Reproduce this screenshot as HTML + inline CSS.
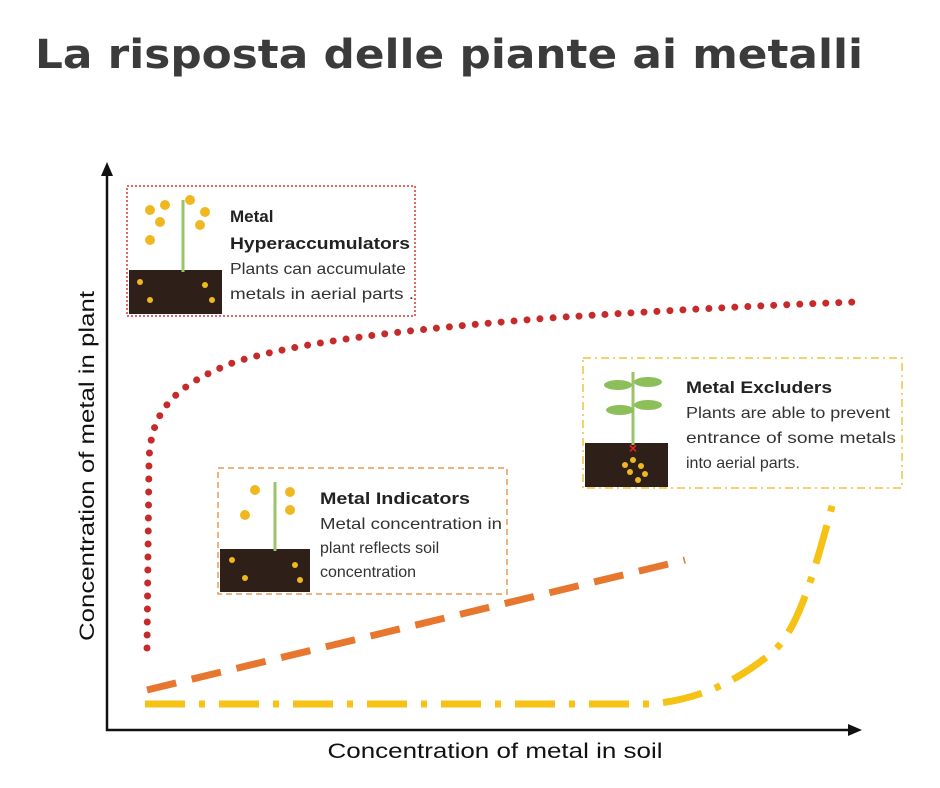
<!DOCTYPE html>
<html><head><style>
body{margin:0;background:#fff;}
svg{display:block;font-family:"Liberation Sans",sans-serif;}
</style></head><body>
<svg width="940" height="788" viewBox="0 0 940 788">
<text x="35" y="68" font-size="40" font-weight="bold" fill="#3b3b3b" font-family="DejaVu Sans, sans-serif" textLength="828" lengthAdjust="spacingAndGlyphs">La risposta delle piante ai metalli</text>
<line x1="107" y1="172" x2="107" y2="731" stroke="#111" stroke-width="2.5"/>
<polygon points="107,162 101,176 113,176" fill="#111"/>
<line x1="106" y1="730" x2="852" y2="730" stroke="#111" stroke-width="2.5"/>
<polygon points="862,730 848,724 848,736" fill="#111"/>
<text transform="translate(94,466) rotate(-90)" text-anchor="middle" font-size="21" fill="#111" textLength="350" lengthAdjust="spacingAndGlyphs">Concentration of metal in plant</text>
<text x="495" y="758" text-anchor="middle" font-size="21" fill="#111" textLength="335" lengthAdjust="spacingAndGlyphs">Concentration of metal in soil</text>
<path d="M147,648 L149,460 C151,410 175,385 235,362 C300,342 400,330 550,318 C700,308 800,304 855,302" fill="none" stroke="#c62a2a" stroke-width="7" stroke-linecap="round" stroke-dasharray="0 13"/>
<path d="M147,690 L685,560" fill="none" stroke="#e7762e" stroke-width="7" stroke-dasharray="30 16"/>
<path d="M145,704 L650,704 C700,700 740,680 775,650 C800,625 815,570 835,495" fill="none" stroke="#f5c215" stroke-width="7" stroke-dasharray="40 14 6 14"/>
<rect x="127" y="186" width="288" height="130" fill="#fff" stroke="#d33" stroke-width="1.5" stroke-dasharray="2 2"/>
<rect x="218" y="468" width="289" height="126" fill="#fff" stroke="#e99a55" stroke-width="1.5" stroke-dasharray="6 4"/>
<rect x="583" y="358" width="319" height="130" fill="#fff" stroke="#f1c140" stroke-width="1.5" stroke-dasharray="8 4 2 4"/>
<g>
<rect x="129" y="270" width="93" height="44" fill="#2e2018"/>
<line x1="183" y1="272" x2="183" y2="200" stroke="#9bc46a" stroke-width="3"/>
<g fill="#f0b820"><circle cx="150" cy="210" r="5"/><circle cx="165" cy="205" r="5"/><circle cx="190" cy="200" r="5"/><circle cx="205" cy="212" r="5"/><circle cx="160" cy="222" r="5"/><circle cx="200" cy="225" r="5"/><circle cx="150" cy="240" r="5"/><circle cx="140" cy="282" r="3"/><circle cx="150" cy="300" r="3"/><circle cx="205" cy="285" r="3"/><circle cx="212" cy="300" r="3"/></g>
</g>
<g>
<rect x="220" y="549" width="90" height="43" fill="#2e2018"/>
<line x1="275" y1="551" x2="275" y2="482" stroke="#9bc46a" stroke-width="3"/>
<g fill="#f0b820"><circle cx="255" cy="490" r="5"/><circle cx="290" cy="492" r="5"/><circle cx="245" cy="515" r="5"/><circle cx="290" cy="510" r="5"/><circle cx="232" cy="560" r="3"/><circle cx="245" cy="578" r="3"/><circle cx="295" cy="565" r="3"/><circle cx="300" cy="580" r="3"/></g>
</g>
<g>
<rect x="585" y="443" width="83" height="44" fill="#2e2018"/>
<line x1="633" y1="445" x2="633" y2="372" stroke="#9bc46a" stroke-width="3"/>
<ellipse cx="618" cy="385" rx="14" ry="5" fill="#8cbf5a"/><ellipse cx="648" cy="382" rx="14" ry="5" fill="#8cbf5a"/><ellipse cx="620" cy="410" rx="14" ry="5" fill="#8cbf5a"/><ellipse cx="648" cy="405" rx="14" ry="5" fill="#8cbf5a"/>
<text x="633" y="453" text-anchor="middle" font-size="14" fill="#e22" font-weight="bold">×</text>
<g fill="#f0b820"><circle cx="625" cy="465" r="3"/><circle cx="633" cy="460" r="3"/><circle cx="641" cy="466" r="3"/><circle cx="630" cy="472" r="3"/><circle cx="645" cy="474" r="3"/><circle cx="638" cy="480" r="3"/></g>
</g>
<g font-size="16" fill="#333">
<text x="230" y="222" font-weight="bold" fill="#222" font-size="17">Metal</text>
<text x="230" y="249" font-weight="bold" fill="#222" font-size="17" textLength="180" lengthAdjust="spacingAndGlyphs">Hyperaccumulators</text>
<text x="230" y="274" textLength="176" lengthAdjust="spacingAndGlyphs">Plants can accumulate</text>
<text x="230" y="299" textLength="184" lengthAdjust="spacingAndGlyphs">metals in aerial parts .</text>
<text x="320" y="504" font-weight="bold" fill="#222" font-size="17" textLength="150" lengthAdjust="spacingAndGlyphs">Metal Indicators</text>
<text x="320" y="529" textLength="182" lengthAdjust="spacingAndGlyphs">Metal concentration in</text>
<text x="320" y="553">plant reflects soil</text>
<text x="320" y="577">concentration</text>
<text x="686" y="393" font-weight="bold" fill="#222" font-size="17" textLength="146" lengthAdjust="spacingAndGlyphs">Metal Excluders</text>
<text x="686" y="418" textLength="204" lengthAdjust="spacingAndGlyphs">Plants are able to prevent</text>
<text x="686" y="443" textLength="210" lengthAdjust="spacingAndGlyphs">entrance of some metals</text>
<text x="686" y="468">into aerial parts.</text>
</g>
</svg>
</body></html>
